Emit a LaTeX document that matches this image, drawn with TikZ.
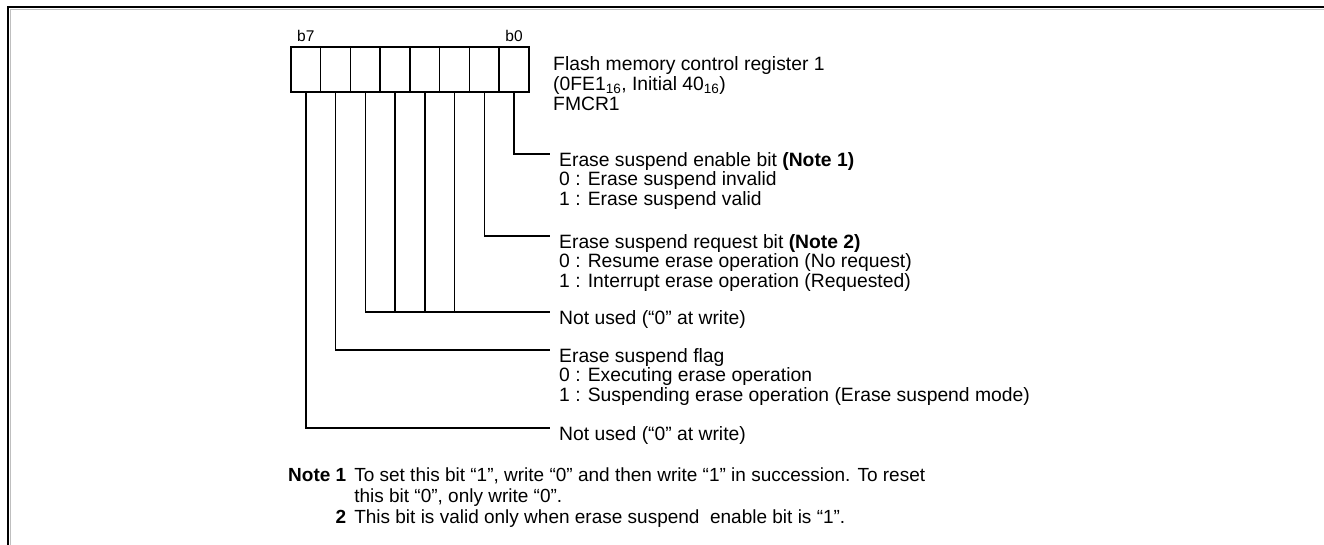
\documentclass[tikz,border=0pt]{standalone}
\usepackage{fontspec}
\setmainfont{Liberation Sans}
\usetikzlibrary{positioning}

\tikzset{
  cell/.style={draw, line width=1.5pt, minimum width=29.75pt, minimum height=45pt, inner sep=0pt},
  wire/.style={line width=1.3pt},
  desc/.style={align=left, inner sep=0pt, font=\fontsize{19.3}{19.5}\selectfont},
  bitlbl/.style={anchor=base, inner sep=0pt, font=\fontsize{15.5}{17}\selectfont},
}

\begin{document}
\begin{tikzpicture}[x=1pt, y=-1pt]
\useasboundingbox (0,0) rectangle (1324,545);

% Frame
\draw[line width=2.5pt] (8,545) |- (1324,7);
\draw[gray!50, line width=0.8pt] (10.2,545) |- (1324,9.2);

% Register cells
\foreach \i in {0,...,7}
  \node[cell] (r\i) at ({514.1-29.75*\i},69.5) {};

% Bit labels
\node[bitlbl] (lb7) at ([yshift=5pt]r7.north) {b7};
\node[bitlbl] (lb0) at ([yshift=5pt]r0.north) {b0};

% Register name
\node[desc, anchor=north west, font=\fontsize{19.3}{20}\selectfont] (title) at (553,56) {Flash memory control register 1\\(0FE1\textsubscript{16}, Initial 40\textsubscript{16})\\FMCR1};

% Line ends
\coordinate (t0) at (550,154);
\coordinate (t1) at (550,236);
\coordinate (t2) at (550,312);
\coordinate (t6) at (550,350);
\coordinate (t7) at (550,428);

% Bit descriptions
\node[desc, below right=-2pt and 9pt of t0] (d0) {Erase suspend enable bit \textbf{(Note 1)}\\0 : Erase suspend invalid\\1 : Erase suspend valid};
\node[desc, below right=-2pt and 9pt of t1] (d1) {Erase suspend request bit \textbf{(Note 2)}\\0 : Resume erase operation (No request)\\1 : Interrupt erase operation (Requested)};
\node[desc, below right=-2pt and 9pt of t2] (d2) {Not used (“0” at write)};
\node[desc, below right=-2pt and 9pt of t6] (d6) {Erase suspend flag\\0 : Executing erase operation\\1 : Suspending erase operation (Erase suspend mode)};
\node[desc, below right=-2pt and 9pt of t7] (d7) {Not used (“0” at write)};

% Bit lines
\draw[wire] (r0.south) |- (t0);
\draw[wire] (r1.south) |- (t1);
\draw[wire] (r5.south) |- (t2);
\foreach \i in {2,3,4}
  \draw[wire] (r\i.south) -- (r\i.south |- t2);
\draw[wire] (r6.south) |- (t6);
\draw[wire] (r7.south) |- (t7);

% Notes
\node[desc, anchor=base west, font=\fontsize{19}{21}\selectfont] (notes) at (288,481) {%
\begin{tabular}[t]{@{}r@{\hspace{8pt}}l@{}}
\textbf{Note 1} & To set this bit “1”, write “0” and then write “1” in succession. To reset\\
 & this bit “0”, only write “0”.\\
\textbf{2} & This bit is valid only when erase suspend\ \ enable bit is “1”.
\end{tabular}};

\end{tikzpicture}
\end{document}
